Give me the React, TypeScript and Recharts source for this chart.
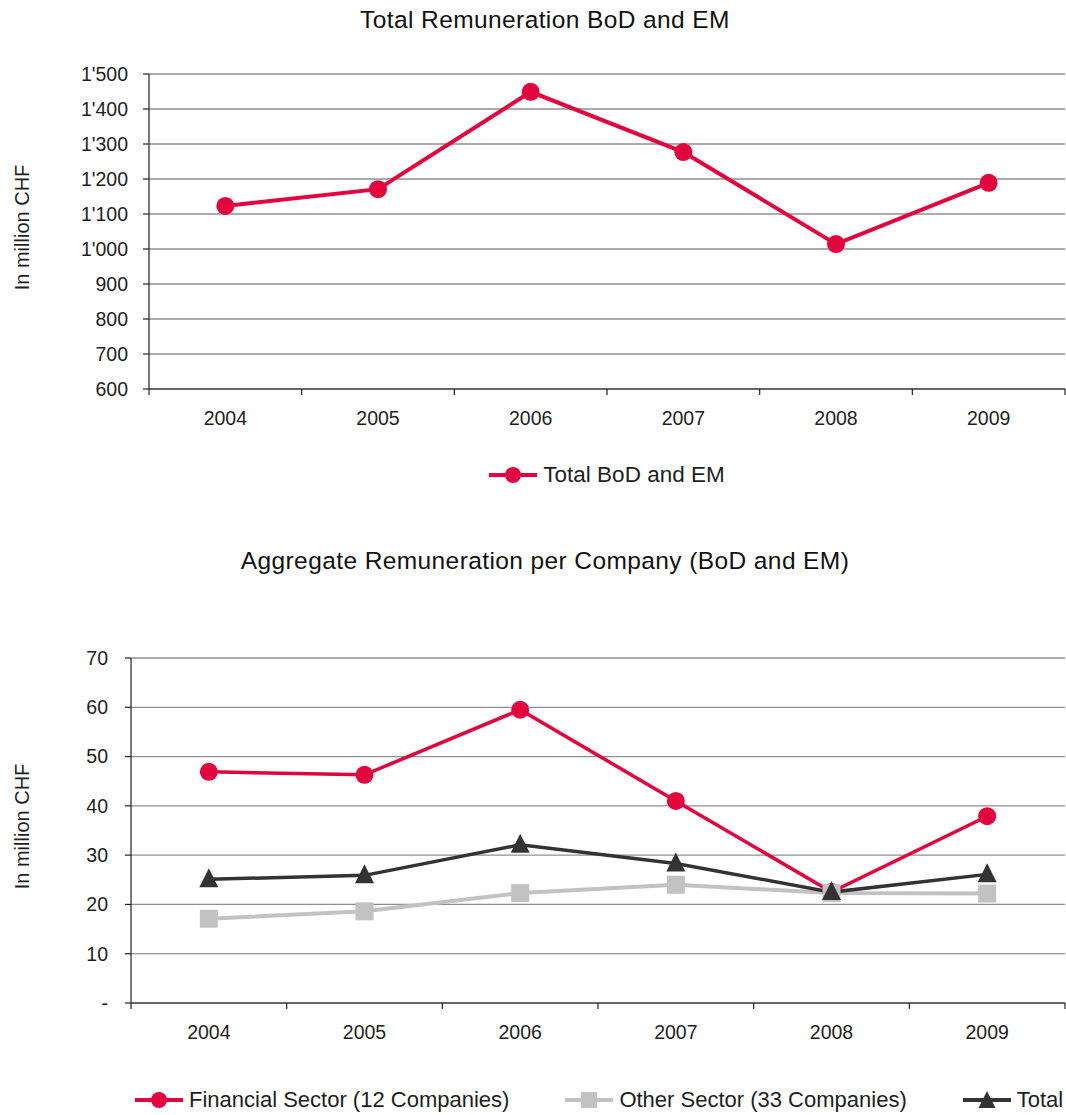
import React from 'react';
import { LineChart, Line, XAxis, YAxis, CartesianGrid, Legend } from 'recharts';

const years = ['2004', '2005', '2006', '2007', '2008', '2009'];
const totalBoDEM = [1123, 1171, 1449, 1277, 1014, 1189];
const financialSector = [46.9, 46.3, 59.5, 41.0, 22.5, 37.9];
const otherSector = [17.1, 18.6, 22.3, 24.0, 22.3, 22.2];
const totalPerCompany = [25.1, 25.9, 32.1, 28.3, 22.5, 26.1];

const topTicks = [600, 700, 800, 900, 1000, 1100, 1200, 1300, 1400, 1500];
const bottomTicks = [0, 10, 20, 30, 40, 50, 60, 70];
const xTicks = [0, 0.5, 1, 1.5, 2, 2.5, 3, 3.5, 4, 4.5, 5, 5.5, 6];

const RED = '#E2043C';
const LIGHT = '#C2C2C2';
const DARK = '#333333';
const FONT = '"Liberation Sans", Arial, sans-serif';
const TEXT = '#1e1e1e';
const GRID = '#8f8f8f';
const AXIS = '#222222';

const topData = years.map((y, i) => ({ x: i + 0.5, year: y, total: totalBoDEM[i] }));
const bottomData = years.map((y, i) => ({
  x: i + 0.5,
  year: y,
  financial: financialSector[i],
  other: otherSector[i],
  total: totalPerCompany[i],
}));

const fmtTop = (v: number) =>
  v >= 1000 ? `${Math.floor(v / 1000)}'${String(v % 1000).padStart(3, '0')}` : String(v);
const fmtBottom = (v: number) => (v === 0 ? '-' : String(v));

const XTick = (props: any) => {
  const { x, y, payload } = props;
  const v = payload.value as number;
  if (Number.isInteger(v)) {
    return <line x1={x} x2={x} y1={y} y2={y + 6} stroke={AXIS} strokeWidth={1.2} />;
  }
  const label = years[Math.floor(v)];
  return (
    <text x={x} y={y + 29} textAnchor="middle" dominantBaseline="central" fill={TEXT} fontSize={19.5} fontFamily={FONT}>
      {label}
    </text>
  );
};

const CircleDot = (props: any) => {
  const { cx, cy, index } = props;
  if (cx == null || cy == null) return <g key={`c${index}`} />;
  return <circle key={`c${index}`} cx={cx} cy={cy} r={9} fill={RED} />;
};
const SquareDot = (props: any) => {
  const { cx, cy, index } = props;
  if (cx == null || cy == null) return <g key={`s${index}`} />;
  return <rect key={`s${index}`} x={cx - 9} y={cy - 9} width={18} height={18} fill={LIGHT} />;
};
const TriangleDot = (props: any) => {
  const { cx, cy, index } = props;
  if (cx == null || cy == null) return <g key={`t${index}`} />;
  return <polygon key={`t${index}`} points={`${cx},${cy - 11} ${cx + 9.5},${cy + 8} ${cx - 9.5},${cy + 8}`} fill={DARK} />;
};

const icon = (key: string) => {
  if (key === 'financial' || key === 'totalTop')
    return (
      <svg width={48} height={20}>
        <line x1={0} x2={48} y1={10} y2={10} stroke={RED} strokeWidth={4} />
        <circle cx={24} cy={10} r={8} fill={RED} />
      </svg>
    );
  if (key === 'other')
    return (
      <svg width={48} height={20}>
        <line x1={0} x2={48} y1={10} y2={10} stroke={LIGHT} strokeWidth={4} />
        <rect x={16} y={2} width={16} height={16} fill={LIGHT} />
      </svg>
    );
  return (
    <svg width={48} height={20}>
      <line x1={0} x2={48} y1={10} y2={10} stroke={DARK} strokeWidth={4} />
      <polygon points="24,1 32.5,18 15.5,18" fill={DARK} />
    </svg>
  );
};

const TopLegend = (props: any) => {
  const { payload } = props;
  return (
    <div style={{ display: 'flex', justifyContent: 'center', alignItems: 'center', height: 40 }}>
      {(payload || []).map((e: any) => (
        <div key={e.value} style={{ display: 'flex', alignItems: 'center' }}>
          {icon('totalTop')}
          <span style={{ marginLeft: 6, fontSize: 22.5, color: TEXT, fontFamily: FONT }}>{e.value}</span>
        </div>
      ))}
    </div>
  );
};

const BottomLegend = (props: any) => {
  const { payload } = props;
  return (
    <div style={{ display: 'flex', alignItems: 'center', height: 40, gap: 56, whiteSpace: 'nowrap' }}>
      {(payload || []).map((e: any) => (
        <div key={e.value} style={{ display: 'flex', alignItems: 'center' }}>
          {icon(String(e.dataKey))}
          <span style={{ marginLeft: 6, fontSize: 22, color: TEXT, fontFamily: FONT }}>{e.value}</span>
        </div>
      ))}
    </div>
  );
};

const yLabel = (props: any) => {
  const { viewBox } = props;
  const cy = viewBox.y + viewBox.height / 2 - 4;
  const cx = 22;
  return (
    <text
      x={cx}
      y={cy}
      transform={`rotate(-90, ${cx}, ${cy})`}
      textAnchor="middle"
      dominantBaseline="central"
      fill={TEXT}
      fontSize={20}
      fontFamily={FONT}
    >
      In million CHF
    </text>
  );
};

const titleStyle: React.CSSProperties = {
  position: 'absolute',
  left: 0,
  width: 1090,
  textAlign: 'center',
  fontFamily: FONT,
  fontSize: 24.5,
  letterSpacing: '0.4px',
  color: '#111',
  lineHeight: '28px',
};

export default function App() {
  return (
    <div style={{ position: 'absolute', left: 0, top: 0, width: 1066, height: 1115, background: '#fff', fontFamily: FONT }}>
      <div style={{ ...titleStyle, top: 6 }}>Total Remuneration BoD and EM</div>
      <div style={{ position: 'absolute', left: 0, top: 0 }}>
        <LineChart width={1066} height={500} data={topData} margin={{ top: 74, right: 1, left: 89, bottom: 0 }}>
          <CartesianGrid vertical={false} stroke={GRID} strokeWidth={1.3} />
          <XAxis
            dataKey="x"
            type="number"
            domain={[0, 6]}
            ticks={xTicks}
            interval={0}
            tickLine={false}
            tickSize={0}
            tickMargin={0}
            tick={<XTick />}
            axisLine={{ stroke: AXIS, strokeWidth: 1.2 }}
            height={71}
          />
          <XAxis xAxisId="top" orientation="top" type="number" domain={[0, 6]} tick={false} tickLine={false} axisLine={{ stroke: AXIS, strokeWidth: 1.2 }} height={0} />
          <YAxis
            type="number"
            domain={[600, 1500]}
            ticks={topTicks}
            interval={0}
            tickFormatter={fmtTop}
            tickSize={6}
            tickMargin={15}
            tickLine={{ stroke: AXIS, strokeWidth: 1.2 }}
            axisLine={{ stroke: AXIS, strokeWidth: 1.2 }}
            tick={{ fill: TEXT, fontSize: 19.5, fontFamily: FONT }}
            width={60}
            label={{ content: yLabel }}
          />
          <YAxis yAxisId="right" orientation="right" width={0} tick={false} tickLine={false} axisLine={{ stroke: AXIS, strokeWidth: 1.2 }} />
          <Legend
            verticalAlign="bottom"
            content={<TopLegend />}
            wrapperStyle={{ top: 455, left: 149, width: 916, height: 40 }}
          />
          <Line
            type="linear"
            dataKey="total"
            name="Total BoD and EM"
            stroke={RED}
            strokeWidth={4}
            dot={CircleDot}
            activeDot={false}
            isAnimationActive={false}
          />
        </LineChart>
      </div>

      <div style={{ ...titleStyle, top: 547 }}>Aggregate Remuneration per Company (BoD and EM)</div>
      <div style={{ position: 'absolute', left: 0, top: 520 }}>
        <LineChart width={1066} height={595} data={bottomData} margin={{ top: 138, right: 1, left: 71, bottom: 0 }}>
          <CartesianGrid vertical={false} stroke={GRID} strokeWidth={1.3} />
          <XAxis
            dataKey="x"
            type="number"
            domain={[0, 6]}
            ticks={xTicks}
            interval={0}
            tickLine={false}
            tickSize={0}
            tickMargin={0}
            tick={<XTick />}
            axisLine={{ stroke: AXIS, strokeWidth: 1.2 }}
            height={72}
          />
          <XAxis xAxisId="top" orientation="top" type="number" domain={[0, 6]} tick={false} tickLine={false} axisLine={{ stroke: AXIS, strokeWidth: 1.2 }} height={0} />
          <YAxis
            type="number"
            domain={[0, 70]}
            ticks={bottomTicks}
            interval={0}
            tickFormatter={fmtBottom}
            tickSize={6}
            tickMargin={17}
            tickLine={{ stroke: AXIS, strokeWidth: 1.2 }}
            axisLine={{ stroke: AXIS, strokeWidth: 1.2 }}
            tick={{ fill: TEXT, fontSize: 19.5, fontFamily: FONT }}
            width={60}
            label={{ content: yLabel }}
          />
          <YAxis yAxisId="right" orientation="right" width={0} tick={false} tickLine={false} axisLine={{ stroke: AXIS, strokeWidth: 1.2 }} />
          <Legend
            verticalAlign="bottom"
            content={<BottomLegend />}
            wrapperStyle={{ top: 560, left: 135, width: 1000, height: 40 }}
          />
          <Line
            type="linear"
            dataKey="financial"
            name="Financial Sector (12 Companies)"
            stroke={RED}
            strokeWidth={3.5}
            dot={CircleDot}
            activeDot={false}
            isAnimationActive={false}
          />
          <Line
            type="linear"
            dataKey="other"
            name="Other Sector (33 Companies)"
            stroke={LIGHT}
            strokeWidth={4}
            dot={SquareDot}
            activeDot={false}
            isAnimationActive={false}
          />
          <Line
            type="linear"
            dataKey="total"
            name="Total"
            stroke={DARK}
            strokeWidth={3.5}
            dot={TriangleDot}
            activeDot={false}
            isAnimationActive={false}
          />
        </LineChart>
      </div>
    </div>
  );
}
